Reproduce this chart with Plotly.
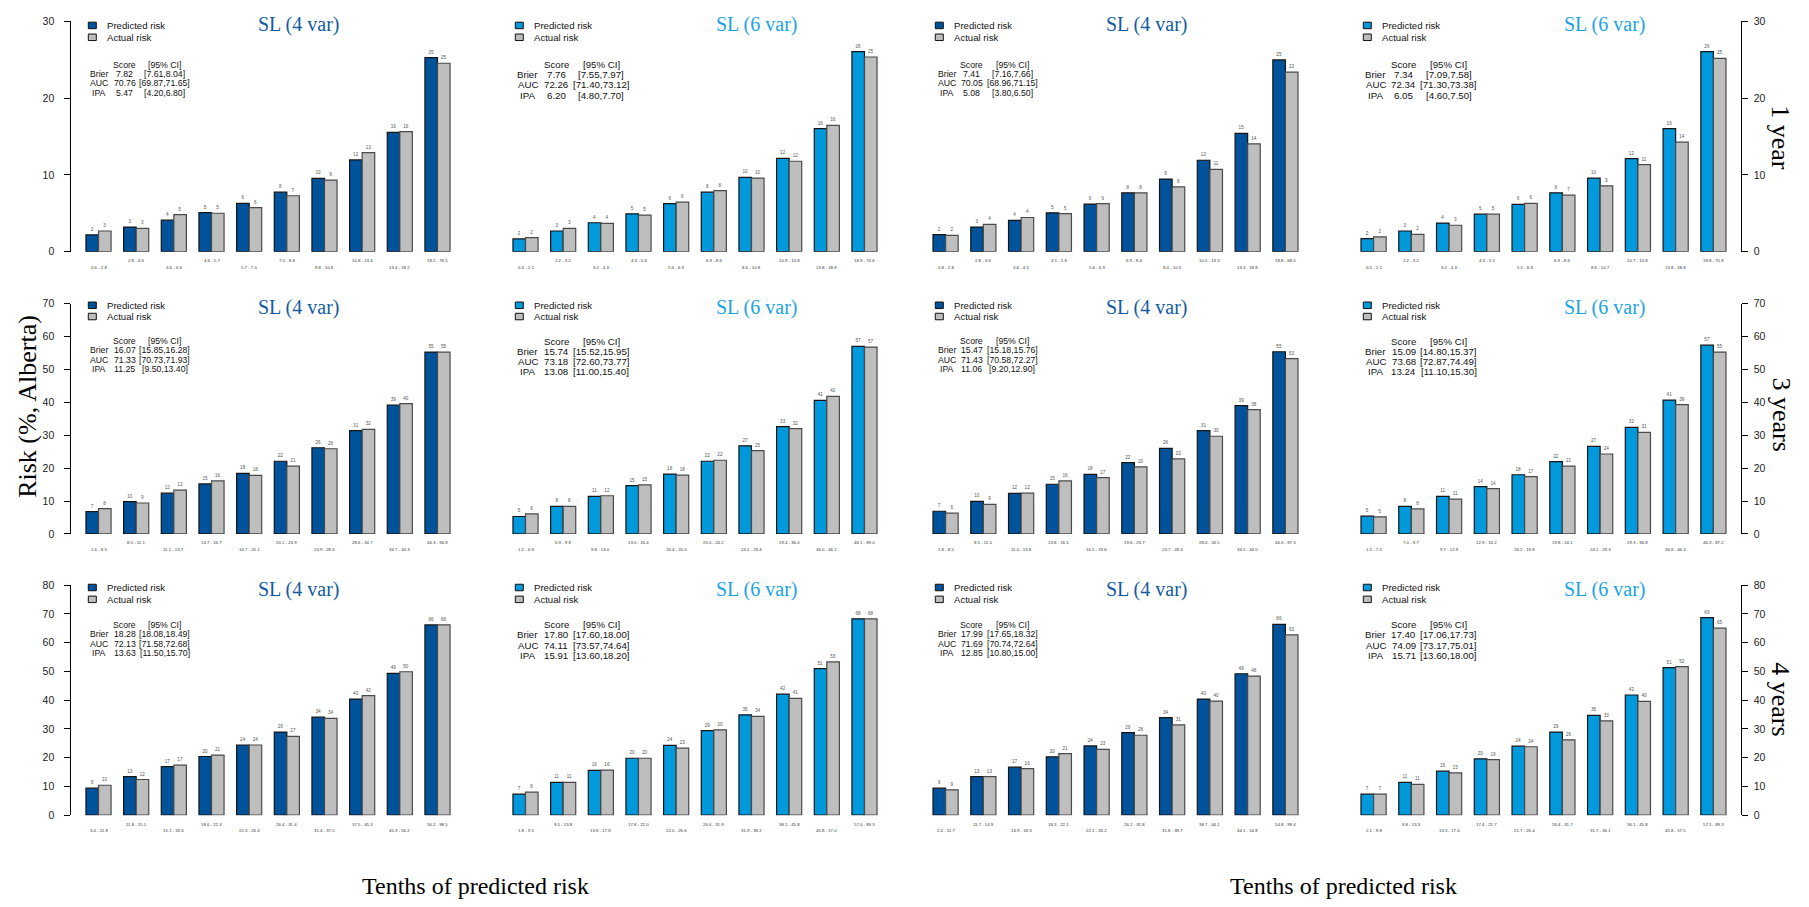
import plotly.graph_objects as go

W, H = 1809, 907

# ---------------- data: tenths of predicted risk (%), predicted vs actual ----------------
# 1 year
y1_a4_bins = ["0.6 - 2.8", "2.8 - 3.6", "3.6 - 4.6", "4.6 - 5.7", "5.7 - 7.0", "7.0 - 8.8", "8.8 - 10.8", "10.8 - 13.4", "13.4 - 18.2", "18.2 - 78.5"]
y1_a4_pred = [2.19, 3.21, 4.11, 5.10, 6.30, 7.76, 9.56, 11.96, 15.56, 25.29]
y1_a4_act = [2.70, 3.04, 4.84, 5.01, 5.74, 7.29, 9.34, 12.90, 15.64, 24.56]

y1_a6_bins = ["0.4 - 2.2", "2.2 - 3.2", "3.2 - 4.3", "4.3 - 5.6", "5.6 - 6.9", "6.9 - 8.6", "8.6 - 10.8", "10.8 - 13.8", "13.8 - 18.9", "18.9 - 70.6"]
y1_a6_pred = [1.67, 2.70, 3.77, 4.93, 6.26, 7.76, 9.69, 12.17, 16.03, 26.06]
y1_a6_act = [1.84, 3.04, 3.69, 4.76, 6.47, 7.97, 9.60, 11.79, 16.46, 25.37]

y1_b4_bins = ["0.8 - 2.8", "2.8 - 3.6", "3.6 - 4.5", "4.5 - 5.6", "5.6 - 6.9", "6.9 - 8.4", "8.4 - 10.5", "10.5 - 13.3", "13.3 - 18.8", "18.8 - 68.0"]
y1_b4_pred = [2.23, 3.21, 4.07, 5.06, 6.21, 7.67, 9.47, 11.92, 15.43, 24.99]
y1_b4_act = [2.14, 3.56, 4.46, 4.97, 6.26, 7.67, 8.44, 10.72, 14.06, 23.40]

y1_b6_bins = ["0.5 - 2.2", "2.2 - 3.2", "3.2 - 4.3", "4.3 - 5.5", "5.5 - 6.9", "6.9 - 8.6", "8.6 - 10.7", "10.7 - 13.8", "13.8 - 18.8", "18.8 - 70.8"]
y1_b6_pred = [1.71, 2.70, 3.73, 4.89, 6.17, 7.67, 9.60, 12.13, 16.03, 26.06]
y1_b6_act = [1.93, 2.27, 3.45, 4.89, 6.30, 7.37, 8.57, 11.36, 14.27, 25.20]

# 3 years
y3_a4_bins = ["1.6 - 8.5", "8.5 - 11.1", "11.1 - 13.7", "13.7 - 16.7", "16.7 - 20.1", "20.1 - 23.9", "23.9 - 28.6", "28.6 - 34.7", "34.7 - 44.3", "44.3 - 94.8"]
y3_a4_pred = [6.8, 9.8, 12.4, 15.2, 18.4, 22.1, 26.2, 31.4, 39.2, 55.3]
y3_a4_act = [7.7, 9.4, 13.3, 16.1, 17.8, 20.6, 25.9, 31.8, 39.6, 55.3]

y3_a6_bins = ["1.2 - 6.9", "6.9 - 9.8", "9.8 - 13.0", "13.0 - 16.4", "16.4 - 20.0", "20.0 - 24.2", "24.2 - 29.4", "29.4 - 36.0", "36.0 - 46.1", "46.1 - 89.0"]
y3_a6_pred = [5.3, 8.4, 11.4, 14.7, 18.2, 22.1, 26.8, 32.6, 40.6, 57.0]
y3_a6_act = [6.1, 8.4, 11.6, 14.9, 17.9, 22.4, 25.3, 32.0, 41.8, 56.8]

y3_b4_bins = ["1.8 - 8.5", "8.5 - 11.0", "11.0 - 13.8", "13.8 - 16.5", "16.5 - 19.6", "19.6 - 23.7", "23.7 - 28.4", "28.4 - 34.5", "34.5 - 44.0", "44.0 - 97.3"]
y3_b4_pred = [6.9, 9.9, 12.3, 15.1, 18.1, 21.7, 26.0, 31.4, 39.0, 55.4]
y3_b4_act = [6.3, 9.0, 12.4, 16.1, 17.1, 20.4, 22.8, 29.7, 37.8, 53.3]

y3_b6_bins = ["1.5 - 7.0", "7.0 - 9.7", "9.7 - 12.9", "12.9 - 16.2", "16.2 - 19.8", "19.8 - 24.1", "24.1 - 29.3", "29.3 - 36.8", "36.8 - 46.3", "46.3 - 87.2"]
y3_b6_pred = [5.4, 8.4, 11.4, 14.4, 18.0, 22.0, 26.6, 32.4, 40.7, 57.4]
y3_b6_act = [5.2, 7.6, 10.6, 13.8, 17.4, 20.6, 24.3, 30.9, 39.3, 55.3]

# 4 years
y4_a4_bins = ["3.4 - 11.8", "11.8 - 15.1", "15.1 - 18.6", "18.6 - 22.3", "22.3 - 26.4", "26.4 - 31.4", "31.4 - 37.5", "37.5 - 45.3", "45.3 - 56.2", "56.2 - 98.5"]
y4_a4_pred = [9.4, 13.4, 16.9, 20.4, 24.4, 28.9, 34.1, 40.4, 49.3, 66.2]
y4_a4_act = [10.4, 12.4, 17.4, 20.9, 24.4, 27.4, 33.7, 41.6, 49.9, 66.2]

y4_a6_bins = ["1.8 - 9.5", "9.5 - 13.8", "13.8 - 17.8", "17.8 - 22.0", "22.0 - 26.6", "26.6 - 31.9", "31.9 - 38.2", "38.2 - 45.8", "45.8 - 57.0", "57.0 - 89.3"]
y4_a6_pred = [7.3, 11.4, 15.6, 19.8, 24.3, 29.4, 34.9, 42.1, 51.0, 68.3]
y4_a6_act = [8.0, 11.4, 15.7, 19.8, 23.3, 29.7, 34.4, 40.6, 53.3, 68.3]

y4_b4_bins = ["2.4 - 11.7", "11.7 - 14.9", "14.9 - 18.3", "18.3 - 22.1", "22.1 - 26.2", "26.2 - 31.8", "31.8 - 38.7", "38.7 - 44.1", "44.1 - 54.8", "54.8 - 99.4"]
y4_b4_pred = [9.4, 13.4, 16.7, 20.3, 24.1, 28.7, 33.9, 40.4, 49.2, 66.4]
y4_b4_act = [8.8, 13.4, 16.2, 21.4, 22.9, 27.8, 31.4, 39.7, 48.4, 62.7]

y4_b6_bins = ["2.1 - 9.8", "9.8 - 13.3", "13.3 - 17.4", "17.4 - 21.7", "21.7 - 26.4", "26.4 - 31.7", "31.7 - 36.1", "36.1 - 45.8", "45.8 - 57.5", "57.5 - 89.3"]
y4_b6_pred = [7.3, 11.4, 15.3, 19.6, 24.0, 28.9, 34.7, 41.8, 51.3, 68.7]
y4_b6_act = [7.3, 10.7, 14.7, 19.3, 23.8, 26.2, 32.8, 39.6, 51.7, 65.1]

# performance scores: (score, CI) for Brier, AUC, IPA
y1_a4_scores = [("7.82", "[7.61,8.04]"), ("70.76", "[69.87,71.65]"), ("5.47", "[4.20,6.80]")]
y1_a6_scores = [("7.76", "[7.55,7.97]"), ("72.26", "[71.40,73.12]"), ("6.20", "[4.80,7.70]")]
y1_b4_scores = [("7.41", "[7.16,7.66]"), ("70.05", "[68.96,71.15]"), ("5.08", "[3.80,6.50]")]
y1_b6_scores = [("7.34", "[7.09,7.58]"), ("72.34", "[71.30,73.38]"), ("6.05", "[4.60,7.50]")]
y3_a4_scores = [("16.07", "[15.85,16.28]"), ("71.33", "[70.73,71.93]"), ("11.25", "[9.50,13.40]")]
y3_a6_scores = [("15.74", "[15.52,15.95]"), ("73.18", "[72.60,73.77]"), ("13.08", "[11.00,15.40]")]
y3_b4_scores = [("15.47", "[15.18,15.76]"), ("71.43", "[70.58,72.27]"), ("11.06", "[9.20,12.90]")]
y3_b6_scores = [("15.09", "[14.80,15.37]"), ("73.68", "[72.87,74.49]"), ("13.24", "[11.10,15.30]")]
y4_a4_scores = [("18.28", "[18.08,18.49]"), ("72.13", "[71.58,72.68]"), ("13.63", "[11.50,15.70]")]
y4_a6_scores = [("17.80", "[17.60,18.00]"), ("74.11", "[73.57,74.64]"), ("15.91", "[13.60,18.20]")]
y4_b4_scores = [("17.99", "[17.65,18.32]"), ("71.69", "[70.74,72.64]"), ("12.85", "[10.80,15.00]")]
y4_b6_scores = [("17.40", "[17.06,17.73]"), ("74.09", "[73.17,75.01]"), ("15.71", "[13.60,18.00]")]

score_names = ["Brier", "AUC", "IPA"]
horizons = ["1 year", "3 years", "4 years"]
y_max = [30, 70, 80]
model_titles = ["SL (4 var)", "SL (6 var)", "SL (4 var)", "SL (6 var)"]

panels = [
    (y1_a4_bins, y1_a4_pred, y1_a4_act, y1_a4_scores),
    (y1_a6_bins, y1_a6_pred, y1_a6_act, y1_a6_scores),
    (y1_b4_bins, y1_b4_pred, y1_b4_act, y1_b4_scores),
    (y1_b6_bins, y1_b6_pred, y1_b6_act, y1_b6_scores),
    (y3_a4_bins, y3_a4_pred, y3_a4_act, y3_a4_scores),
    (y3_a6_bins, y3_a6_pred, y3_a6_act, y3_a6_scores),
    (y3_b4_bins, y3_b4_pred, y3_b4_act, y3_b4_scores),
    (y3_b6_bins, y3_b6_pred, y3_b6_act, y3_b6_scores),
    (y4_a4_bins, y4_a4_pred, y4_a4_act, y4_a4_scores),
    (y4_a6_bins, y4_a6_pred, y4_a6_act, y4_a6_scores),
    (y4_b4_bins, y4_b4_pred, y4_b4_act, y4_b4_scores),
    (y4_b6_bins, y4_b6_pred, y4_b6_act, y4_b6_scores),
]

# ---------------- styling / geometry (pixels) ----------------
DARK_BLUE = "#00539B"
LIGHT_BLUE = "#0099DC"
GREY = "#BEBEBE"
TITLE_COLORS = ["#135CA3", "#1BA3E6", "#135CA3", "#1BA3E6"]
PRED_COLORS = [DARK_BLUE, LIGHT_BLUE, DARK_BLUE, LIGHT_BLUE]
SANS = "Liberation Sans, Arial, sans-serif"
SERIF = "Liberation Serif, Times New Roman, serif"

COL_PX = [(71.4, 464.6), (498.4, 891.6), (918.4, 1312.6), (1346.4, 1740.6)]
ROW_PX = [(15.7, 249.0), (301.7, 535.0), (587.0, 820.0)]
TITLE_X = [298, 756, 1146, 1604.5]
TITLE_Y = [19, 305.7, 591.7]
LEG_Y = [(19.7, 31.7), (303.3, 314.7), (589.3, 601.3)]
STAT_X = [(99, 124.5, 164.5), (527.8, 556, 601), (946.8, 971.5, 1012.2), (1375.5, 1403.8, 1448.7)]
STAT_Y0 = [59.3, 339.5, 627.0]
STAT_FONT = [8.7, 9.7, 8.7, 9.7]
STAT_STEP = [9.6, 10.3, 9.6, 10.3]
X_RANGE = [-0.72, 9.72]


def px_x(x):
    return x / W


def px_y(y):
    return 1 - y / H


fig = go.Figure()
annotations = []
shapes = []

for k, (bins, pred, act, scores) in enumerate(panels):
    r, c = divmod(k, 4)
    n = k + 1
    xa = "x" if n == 1 else f"x{n}"
    ya = "y" if n == 1 else f"y{n}"
    xl = "xaxis" if n == 1 else f"xaxis{n}"
    yl = "yaxis" if n == 1 else f"yaxis{n}"

    # predicted / actual bar pairs with rounded value labels on top
    for vals, col, lcol, name in [(pred, PRED_COLORS[c], "#151515", "Predicted risk"),
                                  (act, GREY, "#4a4a4a", "Actual risk")]:
        fig.add_trace(go.Bar(
            x=bins, y=vals, name=name, xaxis=xa, yaxis=ya, showlegend=False,
            marker=dict(color=col, line=dict(color=lcol, width=1.2)),
            text=[f"{v:.0f}" for v in vals], textposition="outside",
            textfont=dict(family=SANS, size=4.6, color="#555555"),
            constraintext="none", cliponaxis=False, hoverinfo="skip",
        ))

    x0, x1 = COL_PX[c]
    top, bot = ROW_PX[r]
    fig.layout[xl] = dict(domain=[px_x(x0), px_x(x1)], range=X_RANGE, type="category",
                          anchor=ya, visible=False, fixedrange=True)
    yax = dict(domain=[px_y(bot), px_y(top)], range=[0, y_max[r]], anchor=xa,
               showgrid=False, zeroline=False, fixedrange=True)
    if c in (0, 3):
        yax.update(showline=True, linecolor="black", linewidth=1, ticks="outside",
                   ticklen=6, tickwidth=1, tickcolor="black", dtick=10, tick0=0,
                   tickfont=dict(family=SANS, size=10.5, color="#222222"),
                   side="left" if c == 0 else "right",
                   ticklabelstandoff=8 if c == 0 else 4)
    else:
        yax.update(visible=False)
    fig.layout[yl] = yax

    # staggered bin labels under the bar pairs
    for i, b in enumerate(bins):
        annotations.append(dict(
            x=b, xref=xa, y=px_y(bot + (16 if i % 2 == 0 else 9)), yref="paper",
            text=b, showarrow=False, xanchor="center", yanchor="middle",
            font=dict(family=SANS, size=4.3, color="#333333")))

    # model title
    annotations.append(dict(
        x=px_x(TITLE_X[c]), y=px_y(TITLE_Y[r]), xref="paper", yref="paper",
        text=model_titles[c], showarrow=False, xanchor="center", yanchor="middle",
        font=dict(family=SERIF, size=20, color=TITLE_COLORS[c])))

    # in-panel legend
    bs = x0 + 14.6
    for (yc, lab, colr) in [(LEG_Y[r][0], "Predicted risk", PRED_COLORS[c]),
                            (LEG_Y[r][1], "Actual risk", GREY)]:
        shapes.append(dict(type="rect", xref="paper", yref="paper",
                           x0=px_x(bs + 2.3), x1=px_x(bs + 10.3),
                           y0=px_y(yc + 3.3), y1=px_y(yc - 3.3),
                           fillcolor=colr, line=dict(color="#111111", width=1)))
        annotations.append(dict(
            x=px_x(bs + 19), y=px_y(yc), xref="paper", yref="paper", text=lab,
            showarrow=False, xanchor="left", yanchor="middle",
            font=dict(family=SANS, size=9.6, color="#111111")))

    # score table
    rows = [("", "Score", "[95% CI]")] + [(nm, s, ci) for nm, (s, ci) in zip(score_names, scores)]
    for j, row in enumerate(rows):
        yy = STAT_Y0[r] + j * STAT_STEP[c]
        for cx, txt in zip(STAT_X[c], row):
            if not txt:
                continue
            annotations.append(dict(
                x=px_x(cx), y=px_y(yy), xref="paper", yref="paper", text=txt,
                showarrow=False, xanchor="center", yanchor="middle",
                font=dict(family=SANS, size=STAT_FONT[c], color="#111111")))

# horizon labels on the right
for r, (lab, yc) in enumerate(zip(horizons, [133, 414, 702.5])):
    annotations.append(dict(
        x=px_x(1781), y=px_y(yc), xref="paper", yref="paper", text=lab,
        showarrow=False, textangle=90, xanchor="center", yanchor="middle",
        font=dict(family=SERIF, size=26, color="black")))

# shared axis titles
annotations.append(dict(
    x=px_x(27.5), y=px_y(405.7), xref="paper", yref="paper", text="Risk (%, Alberta)",
    showarrow=False, textangle=-90, xanchor="center", yanchor="middle",
    font=dict(family=SERIF, size=26, color="black")))
for xc in (475, 1343):
    annotations.append(dict(
        x=px_x(xc), y=px_y(892), xref="paper", yref="paper", text="Tenths of predicted risk",
        showarrow=False, xanchor="center", yanchor="middle",
        font=dict(family=SERIF, size=24, color="black")))

fig.update_layout(
    width=W, height=H, margin=dict(l=0, r=0, t=0, b=0),
    paper_bgcolor="white", plot_bgcolor="white",
    barmode="group", bargap=1 / 3, bargroupgap=0,
    annotations=annotations, shapes=shapes, showlegend=False,
)

fig.write_html("out.html", config={"displayModeBar": False})
